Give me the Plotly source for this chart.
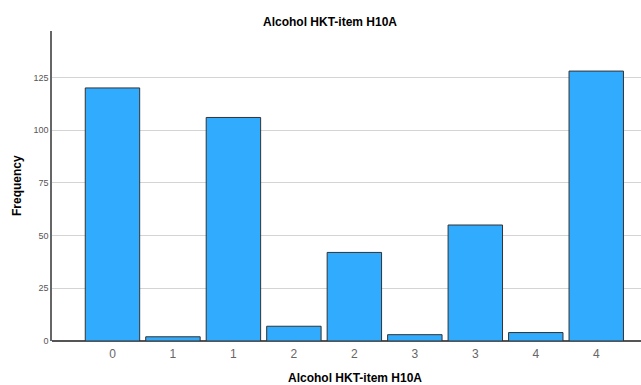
import plotly.graph_objects as go

categories = ["0", "1", "1", "2", "2", "3", "3", "4", "4"]
frequency = [120, 2, 106, 7, 42, 3, 55, 4, 128]
y_ticks = [0, 25, 50, 75, 100, 125]

positions = list(range(len(categories)))

W, H = 641, 385
L, R, T, B = 52, 0, 31, 44
PW, PH = W - L - R, H - T - B


def px_x(x):
    return (x - L) / PW


def px_y(y):
    return 1 - (y - T) / PH


fig = go.Figure(go.Bar(
    x=positions, y=frequency, width=0.9,
    marker=dict(color="#30ABFD", line=dict(color="#333333", width=1)),
))

fig.update_layout(
    width=W, height=H,
    margin=dict(l=L, r=R, t=T, b=B),
    paper_bgcolor="white", plot_bgcolor="white",
    showlegend=False,
    hovermode=False,
    font=dict(family="Arial, Liberation Sans, sans-serif"),
    xaxis=dict(
        range=[-1, 8.74], tickmode="array", tickvals=positions, ticktext=categories,
        showgrid=False, zeroline=False, showline=False, ticks="",
        tickfont=dict(size=12, color="#666666"), ticklabelstandoff=4,
    ),
    yaxis=dict(
        range=[0, 147], tickmode="array", tickvals=y_ticks,
        showgrid=True, gridcolor="#D4D4D4", gridwidth=1,
        zeroline=True, zerolinecolor="#555555", zerolinewidth=1.5,
        showline=True, linecolor="#666666", linewidth=1.5,
        ticks="", ticklen=0,
        tickfont=dict(size=9, color="#555555"),
    ),
    annotations=[
        dict(text="<b>Alcohol HKT-item H10A</b>", xref="paper", yref="paper",
             x=px_x(330), y=px_y(22),
             xanchor="center", yanchor="middle", showarrow=False,
             font=dict(size=12, color="#000000")),
        dict(text="<b>Alcohol HKT-item H10A</b>", xref="paper", yref="paper",
             x=px_x(355), y=px_y(378),
             xanchor="center", yanchor="middle", showarrow=False,
             font=dict(size=12, color="#000000")),
        dict(text="<b>Frequency</b>", xref="paper", yref="paper",
             x=px_x(17), y=px_y(186), textangle=-90,
             xanchor="center", yanchor="middle", showarrow=False,
             font=dict(size=12, color="#000000")),
    ],
)

fig.write_html(
    "out.html",
    config={"displayModeBar": False},
    default_width=f"{W}px", default_height=f"{H}px",
    post_script="document.body.style.margin='0';document.documentElement.style.overflow='hidden';",
)
